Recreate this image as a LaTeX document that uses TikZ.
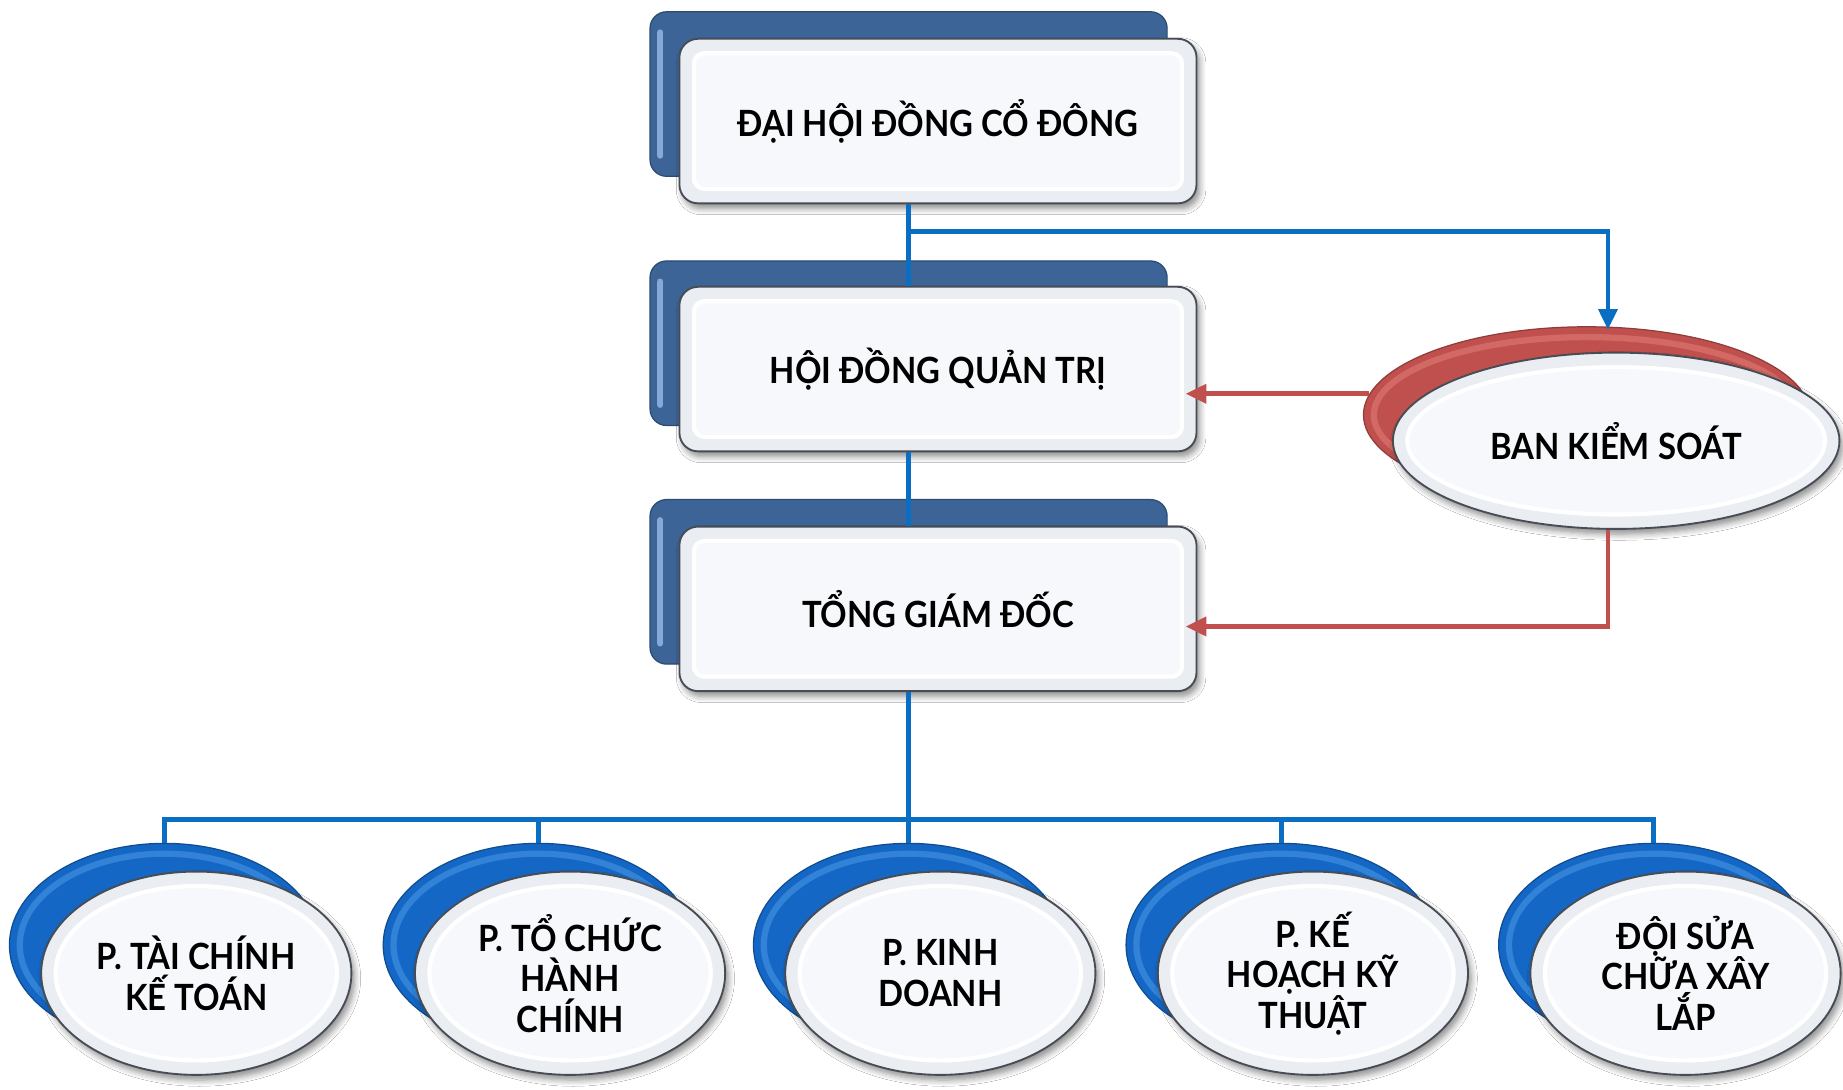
\documentclass[tikz,border=0pt]{standalone}
\usepackage{fontspec}
\setmainfont{Lato}[FakeStretch=0.91]
\usetikzlibrary{shapes.geometric,arrows.meta,calc,shadows.blur}

\definecolor{lineblue}{HTML}{0A6FC2}
\definecolor{linered}{HTML}{C0504D}
\definecolor{slate}{HTML}{3C6496}
\definecolor{slatehi}{HTML}{86A9D8}
\definecolor{capblue}{HTML}{1467C4}
\definecolor{capbluehi}{HTML}{3F8FE0}
\definecolor{capred}{HTML}{C0504D}
\definecolor{capredhi}{HTML}{DC746F}
\definecolor{face}{HTML}{EAEDF1}
\definecolor{faceinner}{HTML}{F6F8FB}
\definecolor{rim}{HTML}{474C55}

\tikzset{
  labelfont/.style={font=\bfseries\fontsize{17.5pt}{19.6pt}\selectfont},
  softshadow/.style={blur shadow={shadow xshift=1.5pt, shadow yshift=-2.5pt,
      shadow blur radius=3pt, shadow blur steps=6, shadow opacity=45}},
  backbox/.style={rectangle, rounded corners=8pt, minimum width=8.8cm,
      minimum height=2.8cm, fill=slate, draw=slate!75!black, line width=0.6pt,
      path picture={\draw[slatehi, line width=3pt, line cap=round]
        ([shift={(5pt,-10pt)}]path picture bounding box.north west) --
        ([shift={(5pt,10pt)}]path picture bounding box.south west);}},
  frontbox/.style={rectangle, rounded corners=9pt, minimum width=8.8cm,
      minimum height=2.8cm, fill=face, draw=rim, line width=0.9pt, softshadow,
      labelfont,
      path picture={\draw[white, line width=2pt, fill=faceinner, rounded corners=5pt]
        ([shift={(7pt,-7pt)}]path picture bounding box.north west) rectangle
        ([shift={(-7pt,7pt)}]path picture bounding box.south east);}},
  backoval/.style n args={4}{ellipse, inner sep=0pt, minimum width=#1,
      minimum height=#2, fill=#3, draw=#3!75!black, line width=0.6pt,
      path picture={\draw[#4, line width=3pt, opacity=0.7]
        (path picture bounding box.center) ellipse [x radius=#1/2-5pt, y radius=#2/2-5pt];}},
  frontoval/.style n args={2}{ellipse, inner sep=0pt, minimum width=#1,
      minimum height=#2, fill=face, draw=rim, line width=0.9pt, softshadow,
      align=center, labelfont,
      path picture={\draw[white, line width=2pt, fill=faceinner]
        (path picture bounding box.center) ellipse [x radius=#1/2-7pt, y radius=#2/2-7pt];}},
  blueline/.style={draw=lineblue, line width=2.3pt},
  bluearrow/.style={blueline, -{Triangle[length=10pt, width=9pt]}},
  redarrow/.style={draw=linered, line width=2.3pt, -{Triangle[length=10pt, width=9pt]}},
}

\begin{document}
\begin{tikzpicture}[x=0.02cm, y=-0.02cm]
  % canvas
  \fill[white] (0,0) rectangle (1568,927);
  \useasboundingbox (0,0) rectangle (1568,927);

  % the three main levels: dark back plate plus light front panel
  \node[backbox] (dhb) at (773,80) {};
  \node[frontbox] (dh) at (798,103) {ĐẠI HỘI ĐỒNG CỔ ĐÔNG};

  \node[backbox] (hdb) at (773,292) {};
  \node[frontbox] (hd) at (798,314) {HỘI ĐỒNG QUẢN TRỊ};

  \node[backbox] (tgb) at (773,495) {};
  \node[frontbox] (tg) at (798,518) {TỔNG GIÁM ĐỐC};

  % supervisory board
  \node[backoval={7.6cm}{3.0cm}{capred}{capredhi}] (bksb) at (1350,353) {};
  \node[frontoval={7.6cm}{3.0cm}] (bks) at (1375,375) {BAN KIỂM SOÁT};

  % departments
  \foreach \i/\cx in {1/167, 2/485, 3/800, 4/1117, 5/1434} {
    \node[backoval={5.28cm}{3.46cm}{capblue}{capbluehi}] (b\i b) at (\cx-27,804) {};
  }
  \node[frontoval={5.28cm}{3.46cm}] (b1) at (167,828) {P. TÀI CHÍNH\\KẾ TOÁN};
  \node[frontoval={5.28cm}{3.46cm}] (b2) at (485,828) {P. TỔ CHỨC\\HÀNH\\CHÍNH};
  \node[frontoval={5.28cm}{3.46cm}] (b3) at (800,828) {P. KINH\\DOANH};
  \node[frontoval={5.28cm}{3.46cm}] (b4) at (1117,828) {P. KẾ\\HOẠCH KỸ\\THUẬT};
  \node[frontoval={5.28cm}{3.46cm}] (b5) at (1434,828) {ĐỘI SỬA\\CHỮA XÂY\\LẮP};

  % vertical chain of command
  \coordinate (split) at (773,197);
  \coordinate (bus) at (773,697);
  \draw[blueline] (dhb.center |- dh.south) -- (hdb.center |- hd.north);
  \draw[blueline] (hdb.center |- hd.south) -- (tgb.center |- tg.north);
  \draw[blueline] (tgb.center |- tg.south) -- (b3b.north);

  % assembly to supervisory board
  \draw[bluearrow] (split) -| ($(bksb.north)+(18,3)$);

  % supervisory board reports
  \draw[redarrow] ($(bksb.center)+(-185,-18)$) -- ($(hd.east)+(-10,21)$);
  \draw[redarrow] ($(bks.south)+(-7,0)$) |- ($(tg.east)+(-10,15)$);

  % department bus
  \draw[blueline] (b1b.north) |- (bus) -| (b5b.north);
  \draw[blueline] (b2b.north) -- (b2b.north |- bus);
  \draw[blueline] (b4b.north) -- (b4b.north |- bus);
\end{tikzpicture}
\end{document}
